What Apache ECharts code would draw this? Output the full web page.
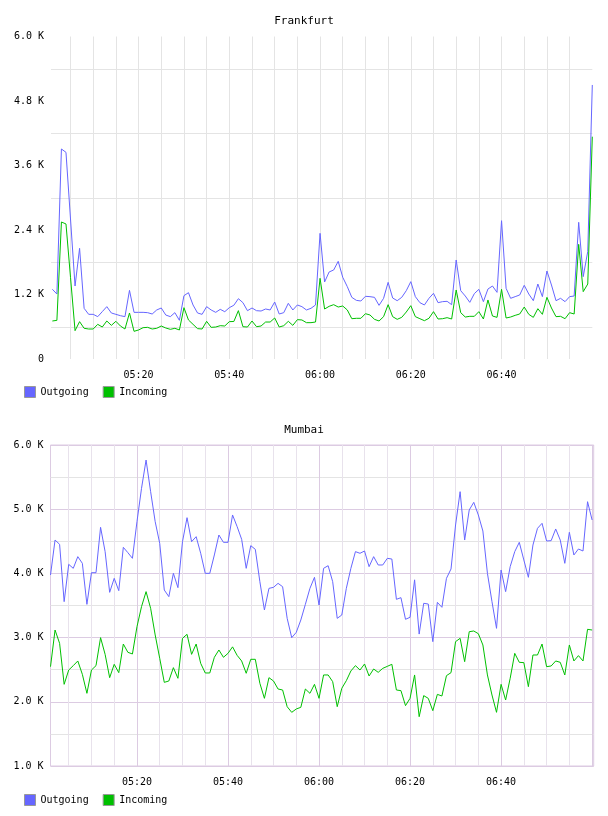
<!DOCTYPE html>
<html>
<head>
<meta charset="utf-8">
<script src="https://cdn.jsdelivr.net/npm/echarts@6/dist/echarts.min.js"></script>
<style>
html,body{margin:0;padding:0;background:#fff;}
#chart{width:608px;height:816px;}
</style>
</head>
<body>
<div id="chart"></div>
<script>
// samples are one per minute; first sample is at 05:01
var startTime = '05:01';
var seriesNames = ['Outgoing', 'Incoming'];
var xTickLabels = ['05:20', '05:40', '06:00', '06:20', '06:40'];
var frankfurtYTicks = [0, 1200, 2400, 3600, 4800, 6000];
var frankfurtYLabels = ['0', '1.2 K', '2.4 K', '3.6 K', '4.8 K', '6.0 K'];
var mumbaiYTicks = [1000, 2000, 3000, 4000, 5000, 6000];
var mumbaiYLabels = ['1.0 K', '2.0 K', '3.0 K', '4.0 K', '5.0 K', '6.0 K'];

var frankfurtOutgoing = [1297,1209,3907,3845,2605,1358,2059,943,831,831,788,881,974,856,831,806,788,1277,868,868,
  868,862,837,912,949,818,788,862,720,1178,1234,1005,856,831,974,912,868,924,880,955,
  1000,1122,1048,899,949,899,893,930,912,1060,837,862,1036,912,1005,974,912,943,1005,2338,
  1433,1619,1656,1817,1520,1346,1147,1091,1079,1166,1160,1147,998,1129,1426,1135,1085,1147,1271,1439,
  1160,1048,1005,1129,1222,1048,1067,1073,1011,1842,1271,1172,1054,1216,1296,1067,1302,1358,1240,2573,
  1315,1129,1160,1191,1371,1209,1085,1395,1160,1637,1377,1085,1129,1067,1160,1172,2543,1532,2000,5098];
var frankfurtIncoming = [707,719,2549,2512,1520,527,695,571,558,558,645,595,707,626,701,614,558,856,515,540,
  583,589,558,571,614,577,552,571,540,955,726,645,565,558,701,589,595,620,614,695,
  698,900,601,595,707,601,614,688,688,763,595,620,701,626,732,726,676,676,688,1501,
  930,980,1011,967,986,912,750,757,757,843,819,738,707,788,1011,788,738,775,874,992,
  788,750,713,757,881,744,750,769,744,1284,862,781,794,794,881,744,1098,800,775,1296,
  763,781,812,837,967,831,775,936,831,1147,949,788,794,750,862,837,2133,1253,1395,4136];
var mumbaiOutgoing = [3975,4520,4453,3560,4141,4079,4261,4157,3518,4011,4011,4718,4339,3705,3923,3731,4406,4323,4235,4806,
  5325,5766,5273,4806,4468,3741,3638,4001,3778,4494,4868,4494,4572,4313,4001,4001,4287,4598,4484,4484,
  4910,4730,4531,4079,4432,4375,3871,3430,3767,3783,3845,3793,3300,2999,3082,3274,3518,3767,3939,3508,
  4079,4120,3871,3300,3352,3767,4079,4339,4313,4349,4105,4261,4131,4131,4235,4224,3596,3622,3285,3316,
  3900,3055,3534,3523,2937,3549,3472,3923,4069,4754,5273,4520,4988,5107,4910,4660,4001,3560,3144,4053,
  3716,4105,4339,4484,4209,3939,4442,4702,4780,4505,4510,4692,4520,4157,4640,4287,4380,4349,5117,4832];
var mumbaiIncoming = [2547,3118,2911,2272,2495,2563,2636,2428,2132,2495,2563,2999,2739,2376,2584,2454,2900,2771,2745,3170,
  3482,3716,3456,3041,2677,2303,2324,2532,2366,2989,3051,2739,2900,2599,2449,2449,2693,2807,2693,2755,
  2856,2724,2636,2444,2662,2662,2288,2054,2376,2324,2199,2184,1924,1836,1888,1914,2199,2132,2272,2054,
  2418,2418,2314,1924,2210,2329,2480,2563,2495,2589,2402,2511,2459,2521,2552,2584,2184,2174,1940,2054,
  2418,1768,2096,2054,1862,2116,2090,2407,2454,2937,2989,2625,3092,3103,3061,2885,2418,2106,1836,2272,
  2028,2366,2755,2615,2610,2236,2729,2729,2900,2547,2558,2636,2615,2418,2885,2636,2719,2636,3129,3118];

var FONT = '"DejaVu Sans Mono", "Liberation Mono", monospace';
var BLUE = '#6666ff';
var GREEN = '#00c000';
var GREY = '#e4e4e4';
var PURPLE = '#dccbe2';
var PURPLE_MINOR = '#e8e2ec';
var MIN = 60000;

function hm(s) {
  var p = s.split(':');
  return Date.UTC(2020, 0, 1, +p[0], +p[1]);
}
var t0 = hm(startTime);
function pairs(arr) {
  return arr.map(function (v, i) { return [t0 + i * MIN, v]; });
}
function pad(n) { return (n < 10 ? '0' : '') + n; }
function xLabel(v) {
  var r = Math.round(v / MIN) * MIN;
  var d = new Date(r);
  var s = pad(d.getUTCHours()) + ':' + pad(d.getUTCMinutes());
  return (Math.abs(v - r) < 1000 && xTickLabels.indexOf(s) >= 0) ? s : '';
}
function yLabelFrom(ticks, labels) {
  return function (v) {
    var i = ticks.indexOf(v);
    return i >= 0 ? labels[i] : '';
  };
}

var chart = echarts.init(document.getElementById('chart'), null, { renderer: 'canvas', useUTC: true });
var labelStyle = { fontFamily: FONT, fontSize: 10, color: '#000' };
var minorStep = 5.5 * MIN;
var majorStep = 20.5 * MIN;
var mMin = t0, mMax = t0 + 119.35 * MIN;

var option = {
  animation: false,
  useUTC: true,
  backgroundColor: '#fff',
  color: [BLUE, GREEN],
  title: [
    { text: 'Frankfurt', left: 'center', top: 11, textStyle: { fontFamily: FONT, fontSize: 11, fontWeight: 'normal', color: '#000' } },
    { text: 'Mumbai', left: 'center', top: 420, textStyle: { fontFamily: FONT, fontSize: 11, fontWeight: 'normal', color: '#000' } }
  ],
  legend: [
    { data: seriesNames, left: 19, top: 381, itemWidth: 11, itemHeight: 11, itemGap: 14, icon: 'rect',
      itemStyle: { borderColor: '#999', borderWidth: 1 }, textStyle: labelStyle, selectedMode: false },
    { data: seriesNames, left: 19, top: 789, itemWidth: 11, itemHeight: 11, itemGap: 14, icon: 'rect',
      itemStyle: { borderColor: '#999', borderWidth: 1 }, textStyle: labelStyle, selectedMode: false }
  ],
  grid: [
    { left: 51, top: 36.5, width: 541.3, height: 322.5, show: false },
    { left: 50.5, top: 445, width: 543.2, height: 321, show: true, borderColor: PURPLE, borderWidth: 1, backgroundColor: 'transparent' }
  ],
  xAxis: [
    { type: 'time', gridIndex: 0, min: t0 - 0.3 * MIN, max: t0 + 119 * MIN, minInterval: minorStep, maxInterval: minorStep,
      axisLine: { show: false }, axisTick: { show: false },
      axisLabel: Object.assign({ formatter: xLabel, margin: 11, showMinLabel: false, showMaxLabel: false }, labelStyle),
      splitLine: { show: true, showMinLine: false, showMaxLine: false, lineStyle: { color: GREY, width: 1 } } },
    { type: 'time', gridIndex: 1, position: 'bottom', z: 0, min: mMin, max: mMax, minInterval: minorStep, maxInterval: minorStep,
      axisLine: { show: false }, axisTick: { show: false },
      axisLabel: Object.assign({ formatter: xLabel, margin: 11, showMinLabel: false, showMaxLabel: false }, labelStyle),
      splitLine: { show: true, showMinLine: false, showMaxLine: false, lineStyle: { color: PURPLE_MINOR, width: 1 } } },
    { type: 'time', gridIndex: 1, position: 'top', z: 1, min: mMin, max: mMax, minInterval: majorStep, maxInterval: majorStep,
      axisLine: { show: false }, axisTick: { show: false }, axisLabel: { show: false },
      splitLine: { show: true, showMinLine: false, showMaxLine: false, lineStyle: { color: PURPLE, width: 1 } } }
  ],
  yAxis: [
    { type: 'value', gridIndex: 0, min: 0, max: 6000, interval: 600,
      axisLine: { show: false }, axisTick: { show: false },
      axisLabel: Object.assign({ formatter: yLabelFrom(frankfurtYTicks, frankfurtYLabels), margin: 7 }, labelStyle),
      splitLine: { show: true, lineStyle: { color: ['rgba(0,0,0,0)', GREY], width: 1 } } },
    { type: 'value', gridIndex: 1, min: 1000, max: 6000, interval: 500,
      axisLine: { show: false }, axisTick: { show: false },
      axisLabel: Object.assign({ formatter: yLabelFrom(mumbaiYTicks, mumbaiYLabels), margin: 7 }, labelStyle),
      splitLine: { show: true, lineStyle: { color: [PURPLE, GREY], width: 1 } } }
  ],
  series: [
    { name: 'Outgoing', type: 'line', xAxisIndex: 0, yAxisIndex: 0, data: pairs(frankfurtOutgoing),
      showSymbol: false, lineStyle: { width: 1, color: BLUE }, itemStyle: { color: BLUE } },
    { name: 'Incoming', type: 'line', xAxisIndex: 0, yAxisIndex: 0, data: pairs(frankfurtIncoming),
      showSymbol: false, lineStyle: { width: 1, color: GREEN }, itemStyle: { color: GREEN } },
    { name: 'Outgoing', type: 'line', xAxisIndex: 1, yAxisIndex: 1, data: pairs(mumbaiOutgoing),
      showSymbol: false, lineStyle: { width: 1, color: BLUE }, itemStyle: { color: BLUE } },
    { name: 'Incoming', type: 'line', xAxisIndex: 1, yAxisIndex: 1, data: pairs(mumbaiIncoming),
      showSymbol: false, lineStyle: { width: 1, color: GREEN }, itemStyle: { color: GREEN } }
  ]
};
chart.setOption(option);
</script>
</body>
</html>
